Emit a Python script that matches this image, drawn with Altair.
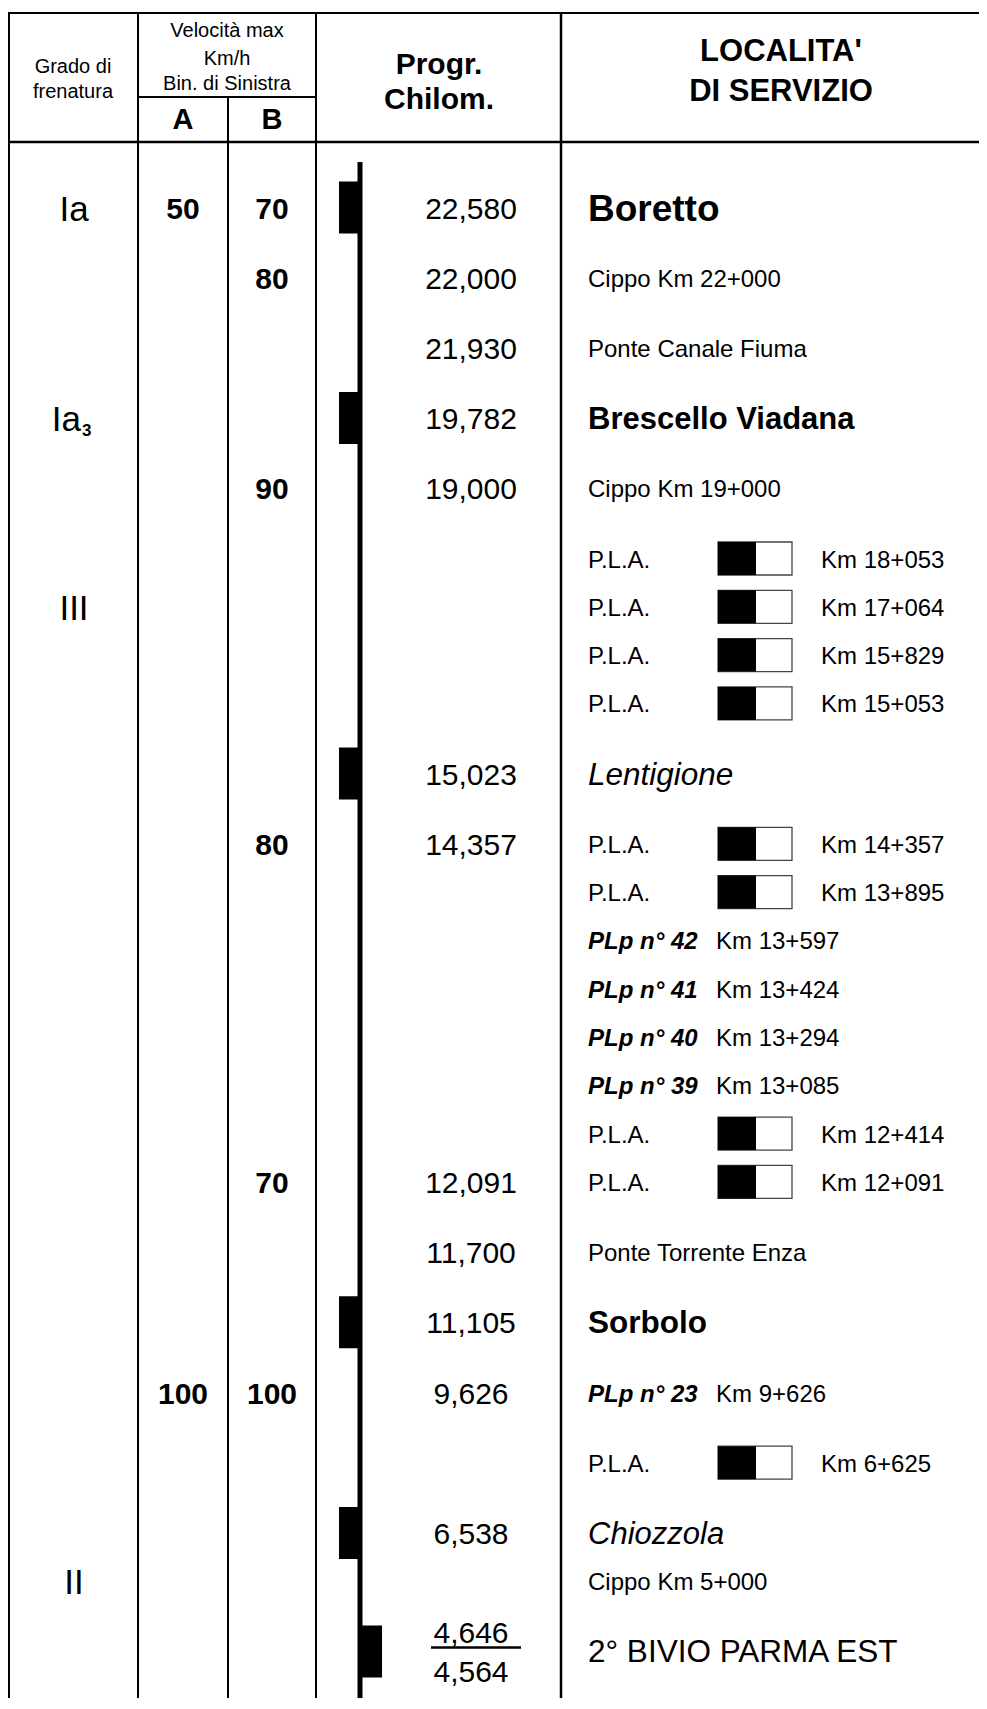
import altair as alt
import pandas as pd

# ---------------- data ----------------
GRADO = ["Ia", "", "", "Ia", "", "", "III", "", "", "", "", "", "", "", "", "", "",
         "", "", "", "", "", "", "II", ""]
GRADO_SUB = ["", "", "", "3"] + [""] * 21
SPEED_A = ["50"] + [""] * 19 + ["100"] + [""] * 4
SPEED_B = ["70", "80", "", "", "90", "", "", "", "", "", "80", "", "", "", "", "", "",
           "70", "", "", "100", "", "", "", ""]
PROGR = ["22,580", "22,000", "21,930", "19,782", "19,000", "", "", "", "", "15,023",
         "14,357", "", "", "", "", "", "", "12,091", "11,700", "11,105", "9,626", "",
         "6,538", "", ""]
PROGR_SPLIT = ["4,646", "4,564"]          # the last row (bivio) has two values
LOC_TEXT = ["Boretto", "Cippo Km 22+000", "Ponte Canale Fiuma", "Brescello Viadana",
            "Cippo Km 19+000", "P.L.A.", "P.L.A.", "P.L.A.", "P.L.A.", "Lentigione",
            "P.L.A.", "P.L.A.", "PLp n° 42", "PLp n° 41", "PLp n° 40", "PLp n° 39",
            "P.L.A.", "P.L.A.", "Ponte Torrente Enza", "Sorbolo", "PLp n° 23", "P.L.A.",
            "Chiozzola", "Cippo Km 5+000", "2° BIVIO PARMA EST"]
LOC_KIND = ["bold", "note", "note", "bold", "note", "pla", "pla", "pla", "pla", "italic",
            "pla", "pla", "plp", "plp", "plp", "plp", "pla", "pla", "note", "bold", "plp",
            "pla", "italic", "note", "plain"]
LOC_KM = ["", "", "", "", "", "Km 18+053", "Km 17+064", "Km 15+829", "Km 15+053", "",
          "Km 14+357", "Km 13+895", "Km 13+597", "Km 13+424", "Km 13+294", "Km 13+085",
          "Km 12+414", "Km 12+091", "", "", "Km 9+626", "Km 6+625", "", "", ""]
HEADERS_SMALL = ["Grado di", "frenatura", "Velocità max", "Km/h", "Bin. di Sinistra"]
HEADERS_BOLD = ["A", "B", "Progr.", "Chilom.", "LOCALITA'", "DI SERVIZIO"]

# ---------------- layout / style ----------------
FONT = "Liberation Sans"
ROW_GAP = "-wwwwwtttwwtttttttwwwwwtw"     # w = wide row spacing, t = tight
GAP = {"w": 70.2, "t": 48.3}
Y0 = 207.5
ROW_Y = []
acc = Y0
for g in ROW_GAP:
    if g != "-":
        acc += GAP[g]
    ROW_Y.append(acc)

X_GRADO, X_A, X_B, X_KM, X_LOC = 74, 183, 272, 471, 588
X_TRACK = 360
PLA_BOX = (718, 756, 792)
X_PLA_KM, X_PLP_KM = 821, 716
RIGHT = 979
BOTTOM = 1698
STATION_SIZE = {"Boretto": 37, "Brescello Viadana": 31, "Sorbolo": 31.5,
                "Lentigione": 31.5, "Chiozzola": 31, "2° BIVIO PARMA EST": 31.5}

xs = alt.Scale(domain=[8, RIGHT], nice=False, zero=False)
ys = alt.Scale(domain=[8, BOTTOM], nice=False, zero=False, reverse=True)


def X(f):
    return alt.X(f"{f}:Q", scale=xs, axis=None)


def Y(f):
    return alt.Y(f"{f}:Q", scale=ys, axis=None)


# ---------------- rules ----------------
rules = [
    (8, RIGHT, 13, 13, 2), (9, 9, 13, BOTTOM, 2), (8, RIGHT, 142, 142, 2.5),
    (138, 316, 97, 97, 2), (138, 138, 13, BOTTOM, 2), (228, 228, 97, BOTTOM, 2),
    (316, 316, 13, BOTTOM, 2), (561, 561, 13, BOTTOM, 2.5),
    (X_TRACK, X_TRACK, 162, BOTTOM, 5),
    (431, 521, ROW_Y[24] - 4, ROW_Y[24] - 4, 2.5),
]
rule_df = pd.DataFrame(rules, columns=["x", "x2", "y", "y2", "w"])
rule_layer = alt.Chart(rule_df).mark_rule(color="black").encode(
    x=X("x"), x2="x2:Q", y=Y("y"), y2="y2:Q",
    strokeWidth=alt.StrokeWidth("w:Q", scale=None))

# ---------------- rects ----------------
blocks, boxes = [], []
for i, k in enumerate(LOC_KIND):
    yc = ROW_Y[i]
    if k in ("bold", "italic"):
        blocks.append((339, X_TRACK, yc - 26, yc + 26))
    if k == "plain":
        blocks.append((X_TRACK, 382, yc - 26, yc + 26))
    if k == "pla":
        boxes.append((PLA_BOX[0], PLA_BOX[2], yc - 16.5, yc + 16.5))
        blocks.append((PLA_BOX[0], PLA_BOX[1], yc - 16.5, yc + 16.5))
box_layer = alt.Chart(pd.DataFrame(boxes, columns=["x", "x2", "y", "y2"])).mark_rect(
    fill="white", stroke="#444444", strokeWidth=1.3).encode(
    x=X("x"), x2="x2:Q", y=Y("y"), y2="y2:Q")
block_layer = alt.Chart(pd.DataFrame(blocks, columns=["x", "x2", "y", "y2"])).mark_rect(
    fill="black").encode(x=X("x"), x2="x2:Q", y=Y("y"), y2="y2:Q")

# ---------------- texts ----------------
texts = []  # (text, x, y, size, group)
hs_pos = [(73, 65), (73, 90), (227, 29), (227, 57), (227, 82)]
for t, (x, y) in zip(HEADERS_SMALL, hs_pos):
    texts.append((t, x, y, 20, "n_c"))
hb_pos = [(183, 118, 29), (272, 118, 29), (439, 63, 30), (439, 98, 30),
          (781, 50, 31), (781, 90, 31)]
for t, (x, y, s) in zip(HEADERS_BOLD, hb_pos):
    texts.append((t, x, y, s, "b_c"))

for i in range(25):
    yc = ROW_Y[i]
    if GRADO[i]:
        if GRADO_SUB[i]:
            texts.append((GRADO[i], 81, yc, 35, "n_r"))
            texts.append((GRADO_SUB[i], 82, yc + 11, 17, "b_l"))
        else:
            texts.append((GRADO[i], X_GRADO, yc, 35, "n_c"))
    if SPEED_A[i]:
        texts.append((SPEED_A[i], X_A, yc, 30, "b_c"))
    if SPEED_B[i]:
        texts.append((SPEED_B[i], X_B, yc, 30, "b_c"))
    if PROGR[i]:
        texts.append((PROGR[i], X_KM, yc, 30, "n_c"))
    k = LOC_KIND[i]
    t = LOC_TEXT[i]
    if k == "bold":
        texts.append((t, X_LOC, yc, STATION_SIZE[t], "b_l"))
    elif k == "italic":
        texts.append((t, X_LOC, yc, STATION_SIZE[t], "i_l"))
    elif k == "plain":
        texts.append((t, X_LOC, yc, STATION_SIZE[t], "n_l"))
    elif k == "note":
        texts.append((t, X_LOC, yc, 24, "n_l"))
    elif k == "pla":
        texts.append((t, X_LOC, yc, 24, "n_l"))
        texts.append((LOC_KM[i], X_PLA_KM, yc, 24, "n_l"))
    elif k == "plp":
        texts.append((t, X_LOC, yc, 24, "bi_l"))
        texts.append((LOC_KM[i], X_PLP_KM, yc, 24, "n_l"))
texts.append((PROGR_SPLIT[0], X_KM, ROW_Y[24] - 19, 30, "n_c"))
texts.append((PROGR_SPLIT[1], X_KM, ROW_Y[24] + 20, 30, "n_c"))

text_df = pd.DataFrame(texts, columns=["t", "x", "y", "s", "g"])

GROUPS = {
    "n_c": ("normal", "normal", "center"),
    "n_l": ("normal", "normal", "left"),
    "n_r": ("normal", "normal", "right"),
    "b_c": ("bold", "normal", "center"),
    "b_l": ("bold", "normal", "left"),
    "i_l": ("normal", "italic", "left"),
    "bi_l": ("bold", "italic", "left"),
}
text_layers = []
for g, (fw, fs, al) in GROUPS.items():
    sub = text_df[text_df["g"] == g]
    if len(sub) == 0:
        continue
    text_layers.append(
        alt.Chart(sub).mark_text(font=FONT, fontWeight=fw, fontStyle=fs, align=al,
                                 baseline="middle", dy=2, color="black").encode(
            x=X("x"), y=Y("y"), text="t:N",
            size=alt.Size("s:Q", scale=None)))

chart = alt.layer(box_layer, block_layer, rule_layer, *text_layers).properties(
    width=RIGHT - 8, height=BOTTOM - 8, padding=0,
    autosize=alt.AutoSizeParams(type="none"),
    background="white",
).configure_view(stroke=None)

chart.save("out.html", embed_options={"renderer": "svg", "actions": False})
